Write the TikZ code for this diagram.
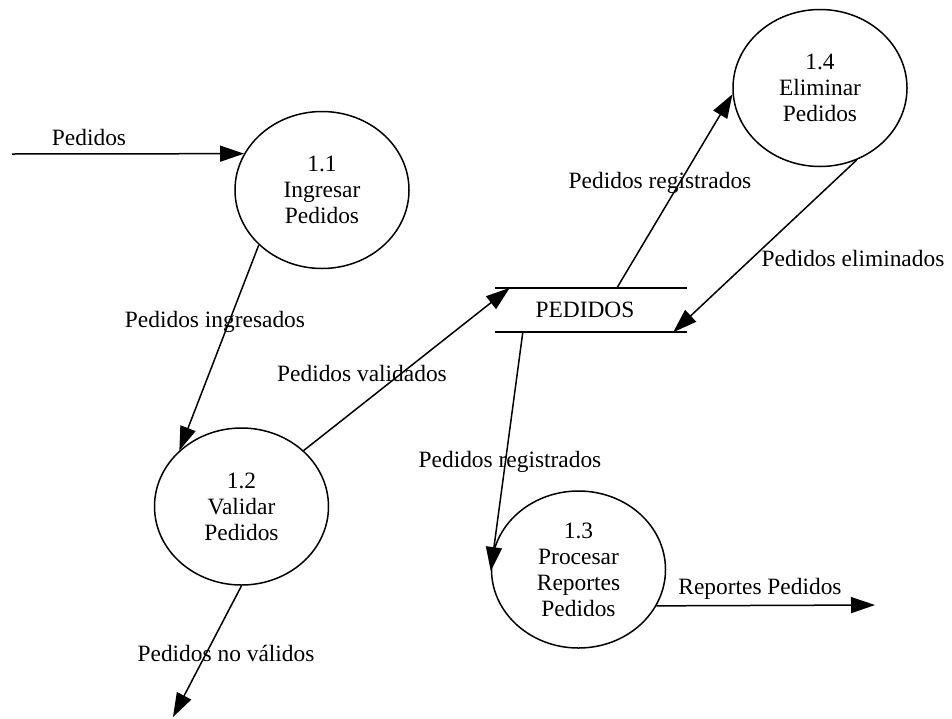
\documentclass[tikz,border=0pt]{standalone}
\usepackage{fontspec}
\setmainfont{Liberation Serif}
\usetikzlibrary{shapes.geometric,arrows.meta}
\begin{document}
\begin{tikzpicture}[x=1pt,y=-1pt,
  every node/.style={font=\fontsize{23.4}{26}\selectfont},
  proc/.style={ellipse,draw,line width=1.5pt,minimum width=174pt,minimum height=157pt,inner sep=0pt,align=center},
  store/.style={minimum width=192pt,minimum height=44pt,inner sep=0pt},
  flow/.style={line width=1.5pt,-{Triangle[length=24pt,width=16pt]}},
  lbl/.style={inner sep=0pt,anchor=center}]
\useasboundingbox (0,0) rectangle (952,718);
\node[proc] (p11) at (322,190) {1.1\\Ingresar\\Pedidos};
\node[proc] (p12) at (241.5,506.5) {1.2\\Validar\\Pedidos};
\node[proc] (p13) at (578.5,569.5) {1.3\\Procesar\\Reportes\\Pedidos};
\node[proc] (p14) at (820,88) {1.4\\Eliminar\\Pedidos};
\node[store] (st) at (591,310) {};
\node[lbl] (stl) at (585,310) {PEDIDOS};
\draw[line width=1.5pt] (st.north west) -- (st.north east);
\draw[line width=1.5pt] (st.south west) -- (st.south east);
\coordinate (src) at (12,154);
\coordinate (out13) at (875,605);
\coordinate (out12) at (173,717);
\draw[flow] (src) -- (p11.155.5);
\draw[flow] (p11.221.7) -- (p12.138.3);
\draw[flow] (p12.42.6) -- ([xshift=15pt]st.north west);
\draw[flow] ([xshift=26pt]st.north) -- (p14.184);
\draw[flow] (p14.297.8) -- ([xshift=-14pt]st.south east);
\draw[flow] ([xshift=28pt]st.south west) -- (p13.181);
\draw[flow] (p13.335.7) -- (out13);
\draw[flow] (p12.270) -- (out12);
\node[lbl] (l1) at (89,137) {Pedidos};
\node[lbl] (l2) at (215,322) {Pedidos ingresados};
\node[lbl] (l3) at (362,373) {Pedidos validados};
\node[lbl] (l4) at (660,183) {Pedidos registrados};
\node[lbl] (l5) at (853,258) {Pedidos eliminados};
\node[lbl] (l6) at (510,462) {Pedidos registrados};
\node[lbl] (l7) at (760,589) {Reportes Pedidos};
\node[lbl] (l8) at (226,653) {Pedidos no válidos};
\end{tikzpicture}
\end{document}
